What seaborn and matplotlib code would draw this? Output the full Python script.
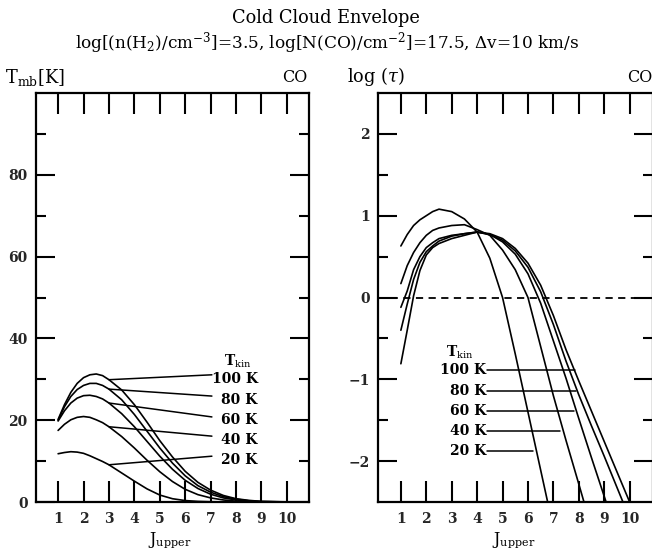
import numpy as np
import pandas as pd
import matplotlib
matplotlib.use("Agg")
import matplotlib.pyplot as plt
from matplotlib.ticker import FixedLocator
import seaborn as sns

# ---------------- data ----------------
LABELS = ["20 K", "40 K", "60 K", "80 K", "100 K"]

# main-beam brightness temperature T_mb [K] versus J_upper
J_TMB = [1.0, 1.25, 1.5, 1.75, 2.0, 2.25, 2.5, 2.75, 3.0, 3.5, 4.0, 4.5,
         5.0, 5.5, 6.0, 6.5, 7.0, 7.5, 8.0, 8.5, 9.0, 10.0]
TMB_20K = [11.8, 12.1, 12.3, 12.2, 11.9, 11.3, 10.6, 9.9, 9.1, 7.1, 5.1, 3.2,
           1.7, 0.8, 0.35, 0.15, 0.06, 0.02, 0.0, 0.0, 0.0, 0.0]
TMB_40K = [17.5, 19.0, 20.1, 20.7, 20.9, 20.7, 20.1, 19.4, 18.4, 16.0, 13.2, 10.2,
           7.4, 5.0, 3.1, 1.8, 1.0, 0.5, 0.2, 0.08, 0.03, 0.0]
TMB_60K = [19.8, 22.3, 24.2, 25.4, 26.0, 26.1, 25.8, 25.2, 24.2, 21.6, 18.4, 14.8,
           11.2, 8.0, 5.3, 3.3, 1.9, 1.0, 0.5, 0.2, 0.08, 0.01]
TMB_80K = [20.0, 23.3, 25.8, 27.5, 28.5, 29.0, 29.0, 28.5, 27.6, 25.0, 21.4, 17.3,
           13.2, 9.5, 6.4, 4.0, 2.4, 1.3, 0.7, 0.3, 0.1, 0.02]
TMB_100K = [20.2, 23.8, 26.8, 29.0, 30.4, 31.1, 31.3, 30.9, 29.9, 27.4, 23.8, 19.5,
            15.0, 11.0, 7.5, 4.8, 2.9, 1.6, 0.8, 0.4, 0.15, 0.03]

# optical depth log(tau) versus J_upper
J_TAU = [1.0, 1.25, 1.5, 1.75, 2.0, 2.25, 2.5, 3.0, 3.5, 4.0, 4.5, 5.0,
         5.5, 6.0, 6.5, 7.0, 7.5, 8.0, 8.5, 9.0, 9.5, 10.0]
NAN = float("nan")
TAU_20K = [0.63, 0.77, 0.88, 0.95, 1.00, 1.05, 1.08, 1.05, 0.96, 0.80, 0.48, 0.0,
           -0.69, -1.40, -2.11, -2.82, NAN, NAN, NAN, NAN, NAN, NAN]
TAU_40K = [0.17, 0.39, 0.55, 0.67, 0.76, 0.82, 0.85, 0.88, 0.89, 0.83, 0.76, 0.58,
           0.34, 0.0, -0.60, -1.20, -1.75, -2.28, -2.82, NAN, NAN, NAN]
TAU_60K = [-0.12, 0.08, 0.34, 0.50, 0.61, 0.67, 0.72, 0.76, 0.78, 0.80, 0.77, 0.68,
           0.53, 0.29, -0.07, -0.53, -0.99, -1.48, -1.96, -2.43, -2.90, NAN]
TAU_80K = [-0.40, -0.08, 0.22, 0.43, 0.56, 0.63, 0.69, 0.75, 0.78, 0.80, 0.77, 0.70,
           0.57, 0.37, 0.07, -0.33, -0.78, -1.19, -1.57, -1.94, -2.32, -2.70]
TAU_100K = [-0.81, -0.40, 0.02, 0.33, 0.52, 0.61, 0.66, 0.72, 0.76, 0.80, 0.78, 0.72,
            0.60, 0.42, 0.15, -0.22, -0.64, -1.02, -1.39, -1.76, -2.13, -2.50]

# curve labels
TMB_LABEL_Y = [10.2, 15.1, 20.0, 24.9, 30.0]
TMB_LEADER_END_Y = [11.2, 16.1, 20.8, 25.9, 31.1]
TAU_LABEL_Y = [-1.88, -1.63, -1.39, -1.14, -0.89]
TAU_LEADER_END_J = [6.18, 7.25, 7.80, 7.88, 7.84]

X_TICKS = [1, 2, 3, 4, 5, 6, 7, 8, 9, 10]

# ---------------- tables ----------------
tmb = pd.DataFrame({"J": J_TMB * 5,
                    "value": TMB_20K + TMB_40K + TMB_60K + TMB_80K + TMB_100K,
                    "Tkin": np.repeat(LABELS, len(J_TMB))})
tau = pd.DataFrame({"J": J_TAU * 5,
                    "value": TAU_20K + TAU_40K + TAU_60K + TAU_80K + TAU_100K,
                    "Tkin": np.repeat(LABELS, len(J_TAU))}).dropna()

# ---------------- style ----------------
sns.set_theme(style="ticks")
plt.rcParams.update({
    "font.family": ["DejaVu Serif"],
    "mathtext.fontset": "custom",
    "mathtext.rm": "DejaVu Serif",
    "mathtext.it": "DejaVu Serif:italic",
    "mathtext.bf": "DejaVu Serif:bold",
    "axes.linewidth": 1.6,
    "axes.edgecolor": "black",
    "text.color": "black",
    "axes.facecolor": "white",
    "figure.facecolor": "white",
})

W, H = 652, 551
fig = plt.figure(figsize=(W / 100, H / 100), dpi=100)


def frac(x0, y0, x1, y1):
    return [x0 / W, 1 - y1 / H, (x1 - x0) / W, (y1 - y0) / H]


axL = fig.add_axes(frac(36, 93, 309, 502))
axR = fig.add_axes(frac(378, 93, 652.5, 502))

palette = {lab: "black" for lab in LABELS}
sns.lineplot(data=tmb, x="J", y="value", hue="Tkin", units="Tkin", estimator=None,
             palette=palette, legend=False, linewidth=1.2, sort=False, ax=axL)
sns.lineplot(data=tau, x="J", y="value", hue="Tkin", units="Tkin", estimator=None,
             palette=palette, legend=False, linewidth=1.2, sort=False, ax=axR)
axR.axhline(0, color="black", linewidth=1.3, linestyle=(0, (4, 3)))

axL.set_xlim(0.13, 10.87)
axL.set_ylim(0, 100)
axR.set_xlim(0.1, 10.9)
axR.set_ylim(-2.5, 2.5)

axL.yaxis.set_major_locator(FixedLocator([0, 20, 40, 60, 80]))
axL.yaxis.set_minor_locator(FixedLocator([10, 30, 50, 70, 90]))
axR.yaxis.set_major_locator(FixedLocator([-2, -1, 0, 1, 2]))
axR.yaxis.set_minor_locator(FixedLocator([-1.5, -0.5, 0.5, 1.5]))

for ax in (axL, axR):
    ax.set_xticks(X_TICKS)
    ax.set_xticklabels([str(t) for t in X_TICKS])
    ax.set_xlabel("")
    ax.set_ylabel("")
    ax.tick_params(axis="both", which="both", direction="in", top=True, right=True,
                   color="black", width=1.5)
    ax.tick_params(axis="x", which="major", length=15, pad=7, labelsize=10)
    ax.tick_params(axis="y", which="major", length=14, pad=6, labelsize=10)
    ax.tick_params(axis="y", which="minor", length=7)
    for lab in ax.get_xticklabels() + ax.get_yticklabels():
        lab.set_fontweight("bold")
    for sp in ax.spines.values():
        sp.set_visible(True)
        sp.set_linewidth(1.6)

# curve labels, left panel
i3 = J_TMB.index(3.0)
tmb_at3 = [TMB_20K[i3], TMB_40K[i3], TMB_60K[i3], TMB_80K[i3], TMB_100K[i3]]
for lab, ly, ey, y0 in zip(LABELS, TMB_LABEL_Y, TMB_LEADER_END_Y, tmb_at3):
    axL.plot([3.0, 7.05], [y0, ey], color="black", linewidth=1.1)
    axL.text(8.85, ly, lab, ha="right", va="center", fontsize=10, fontweight="bold")
axL.text(8.05, 34.3, r"T$_{\mathrm{kin}}$", ha="center", va="center", fontsize=10,
         fontweight="bold")

# curve labels, right panel
for lab, ly, ej in zip(LABELS, TAU_LABEL_Y, TAU_LEADER_END_J):
    axR.plot([4.40, ej], [ly, ly], color="black", linewidth=1.1)
    axR.text(4.36, ly, lab, ha="right", va="center", fontsize=10, fontweight="bold")
axR.text(3.33, -0.67, r"T$_{\mathrm{kin}}$", ha="center", va="center", fontsize=10,
         fontweight="bold")

# titles and axis captions
fig.text(326 / W, 1 - 18 / H, "Cold Cloud Envelope", ha="center", va="center", fontsize=12.8)
fig.text(327 / W, 1 - 43 / H,
         r"log[(n(H$_2$)/cm$^{-3}$]=3.5, log[N(CO)/cm$^{-2}$]=17.5, $\Delta$v=10 km/s",
         ha="center", va="center", fontsize=12.2)
fig.text(5 / W, 1 - 77 / H, r"T$_{\mathrm{mb}}$[K]", ha="left", va="center", fontsize=12.8)
fig.text(307 / W, 1 - 77 / H, "CO", ha="right", va="center", fontsize=11.5)
fig.text(347 / W, 1 - 77 / H, r"log ($\tau$)", ha="left", va="center", fontsize=12.8)
fig.text(652 / W, 1 - 77 / H, "CO", ha="right", va="center", fontsize=11.5)
fig.text(170 / W, 1 - 540 / H, r"J$_{\mathrm{upper}}$", ha="center", va="center", fontsize=11.5)
fig.text(514 / W, 1 - 540 / H, r"J$_{\mathrm{upper}}$", ha="center", va="center", fontsize=11.5)

fig.savefig("out.png", dpi=100)
